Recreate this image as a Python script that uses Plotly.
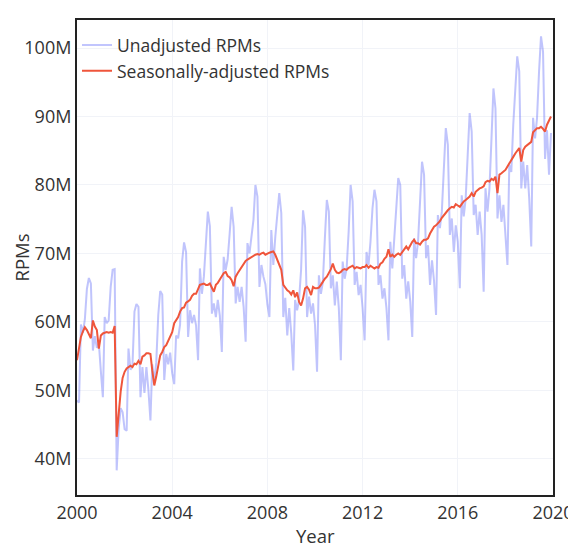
import numpy as np
import pandas as pd
import plotly.graph_objects as go

# monthly values, Jan 2000 .. Dec 2019, in millions of revenue passenger miles
START = "2000-01-01"
N_MONTHS = 240

UNADJUSTED = [
    48.5, 48.2, 59.6, 58.4, 60.4, 64.8, 66.4, 65.6, 55.8, 57.9, 56.2, 56.9,  # 2000
    52.8, 49.0, 60.7, 59.8, 60.2, 65.1, 67.6, 67.7, 38.3, 44.3, 47.4, 46.8,  # 2001
    44.3, 44.1, 56.1, 53.0, 53.6, 61.5, 62.6, 62.2, 49.0, 53.4, 49.6, 53.4,  # 2002
    50.0, 45.6, 53.8, 51.3, 54.0, 61.0, 64.5, 64.0, 51.5, 55.3, 53.8, 55.5,  # 2003
    52.5, 50.9, 58.0, 57.6, 59.6, 68.8, 71.6, 70.2, 57.8, 61.7, 59.8, 61.0,  # 2004
    59.5, 54.4, 67.8, 64.1, 66.6, 71.2, 76.1, 74.0, 61.2, 62.7, 60.7, 63.2,  # 2005
    60.9, 55.6, 69.5, 67.6, 69.1, 72.9, 76.8, 73.9, 62.7, 65.1, 62.9, 65.1,  # 2006
    62.2, 57.1, 71.5, 70.0, 72.4, 74.9, 80.0, 78.3, 65.1, 68.3, 66.6, 65.5,  # 2007
    62.5, 60.7, 73.4, 68.3, 72.4, 75.4, 78.8, 75.9, 60.7, 63.5, 58.0, 62.0,  # 2008
    58.3, 52.9, 63.2, 61.7, 63.2, 67.6, 76.3, 73.9, 60.7, 63.7, 61.2, 62.7,  # 2009
    59.5, 52.7, 66.8, 64.1, 65.8, 72.2, 77.8, 76.1, 64.9, 66.8, 62.4, 65.9,  # 2010
    62.0, 54.4, 68.8, 66.3, 67.8, 73.2, 80.0, 77.6, 65.4, 67.3, 63.9, 65.4,  # 2011
    62.0, 57.3, 70.2, 68.3, 71.7, 76.6, 79.3, 77.6, 65.4, 66.8, 63.4, 64.9,  # 2012
    62.0, 57.3, 71.7, 67.8, 71.7, 76.6, 81.0, 80.0, 66.3, 68.3, 63.4, 65.9,  # 2013
    63.0, 57.8, 72.2, 69.3, 71.7, 77.6, 83.4, 81.5, 69.3, 71.2, 65.4, 69.0,  # 2014
    66.0, 61.0, 75.6, 73.7, 76.1, 82.4, 88.3, 85.9, 72.7, 75.1, 70.2, 74.1,  # 2015
    71.7, 64.9, 78.5, 75.4, 78.0, 84.4, 90.5, 87.8, 75.6, 77.1, 72.7, 76.1,  # 2016
    72.7, 64.4, 79.5, 76.1, 79.5, 86.8, 94.1, 91.2, 75.1, 78.5, 74.6, 77.1,  # 2017
    73.2, 68.3, 82.9, 81.9, 88.8, 94.6, 98.8, 96.6, 79.5, 83.4, 79.5, 82.9,  # 2018
    78.0, 71.0, 89.8, 86.8, 89.8, 96.6, 101.7, 99.5, 83.8, 88.0, 81.5, 87.6,  # 2019
]

SEASONAL = [
    54.4, 56.2, 57.8, 58.6, 59.2, 58.8, 58.3, 57.6, 60.2, 59.3, 58.8, 56.1,  # 2000
    58.0, 58.3, 58.4, 58.5, 58.4, 58.5, 58.4, 59.4, 43.2, 47.0, 49.8, 51.8,  # 2001
    52.7, 53.2, 53.4, 53.6, 53.4, 53.9, 53.8, 54.3, 53.8, 54.9, 55.1, 55.4,  # 2002
    55.4, 55.3, 52.9, 50.7, 52.0, 53.4, 55.1, 55.6, 56.3, 56.6, 57.2, 58.0,  # 2003
    58.5, 59.8, 60.2, 60.7, 61.5, 62.0, 62.1, 62.8, 63.0, 63.2, 63.8, 64.1,  # 2004
    64.1, 64.9, 65.4, 65.5, 65.6, 65.4, 65.4, 65.6, 65.1, 64.4, 65.4, 65.7,  # 2005
    66.2, 66.6, 67.1, 67.3, 66.7, 66.5, 66.1, 65.2, 66.6, 67.1, 67.6, 68.0,  # 2006
    68.4, 68.9, 69.1, 69.3, 69.4, 69.6, 69.8, 69.9, 69.8, 70.0, 70.1, 69.8,  # 2007
    70.0, 70.1, 70.2, 70.3, 69.8, 69.1, 68.3, 67.6, 65.4, 64.9, 64.6, 64.4,  # 2008
    64.0, 64.6, 63.6, 64.3, 62.9, 62.4, 63.4, 64.9, 65.1, 64.7, 63.9, 65.1,  # 2009
    64.9, 64.9, 65.0, 65.4, 65.9, 66.3, 66.6, 67.1, 67.7, 68.5, 67.6, 67.2,  # 2010
    67.1, 67.3, 67.6, 67.7, 67.6, 67.9, 68.0, 68.2, 67.8, 68.0, 67.9, 67.8,  # 2011
    68.0, 68.0, 68.3, 67.9, 68.2, 68.0, 67.8, 68.0, 67.9, 68.5, 68.7, 69.2,  # 2012
    69.5, 70.6, 69.5, 69.8, 69.5, 69.8, 70.0, 69.8, 70.2, 70.5, 71.0, 70.6,  # 2013
    71.2, 71.7, 72.0, 71.5, 71.5, 71.3, 71.7, 72.0, 72.0, 72.2, 72.9, 73.4,  # 2014
    73.9, 74.1, 74.4, 74.7, 75.2, 75.6, 76.0, 76.3, 76.6, 76.8, 76.7, 77.2,  # 2015
    77.0, 76.8, 77.2, 77.6, 77.8, 78.0, 78.3, 78.8, 78.3, 79.0, 79.3, 79.5,  # 2016
    79.6, 79.8, 80.4, 80.6, 80.5, 80.9, 80.7, 81.2, 78.8, 81.5, 81.7, 82.0,  # 2017
    82.2, 82.7, 83.2, 83.7, 84.1, 84.6, 85.1, 85.4, 83.4, 85.1, 85.6, 85.8,  # 2018
    86.0, 86.3, 87.7, 88.0, 88.3, 88.3, 88.5, 88.2, 87.8, 88.8, 89.4, 90.0,  # 2019
]

months = pd.date_range(START, periods=N_MONTHS, freq="MS")

fig = go.Figure()
fig.add_trace(go.Scatter(x=months, y=np.array(UNADJUSTED) * 1e6, mode="lines",
                         name="Unadjusted RPMs", opacity=0.4,
                         line=dict(color="#636EFA", width=2)))
fig.add_trace(go.Scatter(x=months, y=np.array(SEASONAL) * 1e6, mode="lines",
                         name="Seasonally-adjusted RPMs",
                         line=dict(color="#EF553B", width=2)))

axis_style = dict(showline=True, linecolor="#222", linewidth=2, mirror=True,
                  showgrid=True, gridcolor="#f1f3f8", zeroline=False, ticks="",
                  automargin=False, ticklabeloverflow="allow",
                  tickfont=dict(size=18, color="#333"))
fig.update_xaxes(range=["2000-01-01", "2020-01-01"],
                 tick0="2000-01-01", dtick="M48", tickformat="%Y", **axis_style)
fig.update_yaxes(range=[34.7e6, 104.1e6], dtick=10e6, **axis_style)

# axis titles placed by hand (pixel offsets from the plot edges)
fig.add_annotation(text="Year", xref="paper", yref="paper", x=0.5, y=0,
                   xanchor="center", yanchor="middle", yshift=-40, showarrow=False,
                   borderpad=0, font=dict(size=18.5, color="#333"))
fig.add_annotation(text="RPMs", xref="paper", yref="paper", x=0, y=0.5,
                   xanchor="center", yanchor="middle", xshift=-56, textangle=-90,
                   showarrow=False, borderpad=0, font=dict(size=18.5, color="#333"))

# page body adds an 8px margin at the top and left of the figure
fig.update_layout(
    width=568, height=540, template="plotly_white",
    font=dict(family="Open Sans", size=18, color="#333"),
    margin=dict(l=69, r=23, t=12, b=53),
    plot_bgcolor="white", paper_bgcolor="white",
    legend=dict(x=0.0, y=0.985, xanchor="left", yanchor="top",
                bgcolor="rgba(0,0,0,0)", font=dict(size=17.5)),
)

fig.write_html("out.html")
